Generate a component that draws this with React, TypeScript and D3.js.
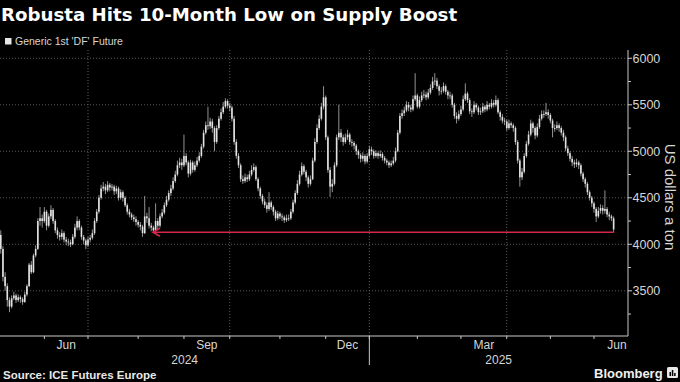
import React, { useEffect } from "react";
import * as d3 from "d3";

// ---------- DATA ----------
const title = "Robusta Hits 10-Month Low on Supply Boost";
const legendLabel = "Generic 1st 'DF' Future";
const sourceText = "Source: ICE Futures Europe";
const yAxisTitle = "US dollars a ton";

const startDate = "2024-05-02";
const endDate = "2025-06-13";
const firstOpen = 4100;
const holidays = [
  "2024-05-06", "2024-05-27", "2024-08-26", "2024-12-25", "2024-12-26",
  "2025-01-01", "2025-04-18", "2025-04-21", "2025-05-05", "2025-05-26",
];

const closes = [
  3950, 3650, 3550, 3400, 3330, 3420, 3450, 3400, 3430, 3410, 3380, 3460, 3550, 3780, 3700, 3880, 3950, 4250, 4280, 4250,
  4350, 4200, 4300, 4370, 4250, 4150, 4100, 4080, 4120, 4050, 4030, 4020, 4000, 4080, 4180, 4250, 4180, 4080, 4040, 3990,
  4050, 4070, 4120, 4250, 4350, 4500, 4600, 4620, 4580, 4640, 4610, 4620, 4570, 4600, 4500, 4560, 4500, 4420, 4350, 4320,
  4290, 4270, 4240, 4210, 4190, 4120, 4300, 4280, 4200, 4180, 4150, 4250, 4200, 4300, 4340, 4420, 4480, 4550, 4600, 4680,
  4750, 4850, 4880, 4850, 4950, 4880, 4760, 4880, 4800, 4850, 4900, 4950, 5050, 5200, 5280, 5270, 5320, 5250, 5100, 5250,
  5350, 5420, 5480, 5540, 5490, 5470, 5350, 5100, 4950, 4850, 4700, 4680, 4720, 4700, 4750, 4800, 4830, 4700, 4600, 4520,
  4460, 4420, 4380, 4450, 4400, 4350, 4280, 4330, 4300, 4290, 4260, 4280, 4280, 4350, 4450, 4550, 4650, 4750, 4840, 4780,
  4720, 4650, 4700, 4900, 5100, 5250, 5350, 5480, 5580, 5150, 4800, 4620, 4650, 4850, 5150, 5200, 5150, 5100, 5150, 5180,
  5100, 5090, 5060, 5000, 4960, 4920, 4950, 4890, 4950, 5020, 5000, 4950, 4980, 4950, 4970, 4930, 4900, 4880, 4850, 4870,
  4900, 5000, 5200, 5380, 5410, 5440, 5500, 5470, 5450, 5560, 5600, 5480, 5550, 5600, 5610, 5580, 5630, 5680, 5750, 5760,
  5700, 5650, 5650, 5700, 5640, 5600, 5600, 5500, 5380, 5350, 5400, 5450, 5560, 5620, 5550, 5430, 5420, 5500, 5470, 5420,
  5430, 5480, 5450, 5500, 5480, 5520, 5500, 5550, 5420, 5370, 5330, 5320, 5250, 5300, 5280, 5250, 5100, 4900, 4720, 4780,
  4950, 5080, 5180, 5300, 5250, 5170, 5260, 5350, 5400, 5400, 5420, 5390, 5330, 5250, 5250, 5280, 5250, 5200, 5150, 5030,
  4980, 4920, 4880, 4860, 4880, 4850, 4760, 4700, 4650, 4560, 4500, 4440, 4380, 4300, 4360, 4390, 4360, 4380, 4320, 4300,
  4280, 4160,
];

const highs = [
  4150, 3980, 3700, 3580, 3430, 3450, 3490, 3470, 3460, 3450, 3430, 3490, 3570, 3800, 3820, 3900, 3990, 4280, 4400, 4320,
  4400, 4370, 4330, 4420, 4390, 4270, 4180, 4130, 4160, 4140, 4080, 4060, 4050, 4110, 4220, 4300, 4270, 4200, 4100, 4060,
  4080, 4100, 4160, 4280, 4380, 4530, 4640, 4670, 4650, 4680, 4660, 4650, 4640, 4630, 4620, 4590, 4580, 4520, 4440, 4380,
  4340, 4320, 4300, 4260, 4240, 4210, 4520, 4340, 4400, 4230, 4200, 4440, 4280, 4330, 4380, 4450, 4520, 4580, 4640, 4720,
  4790, 4900, 4930, 4920, 5180, 4980, 4900, 4910, 4900, 4890, 4940, 4990, 5080, 5230, 5320, 5480, 5360, 5350, 5270, 5280,
  5380, 5460, 5530, 5570, 5560, 5520, 5490, 5380, 5130, 4980, 4870, 4740, 4760, 4750, 4790, 4850, 4870, 4850, 4720, 4620,
  4540, 4490, 4450, 4560, 4470, 4420, 4370, 4360, 4350, 4330, 4310, 4320, 4320, 4380, 4480, 4580, 4690, 4790, 4880, 4860,
  4800, 4740, 4740, 4930, 5140, 5290, 5390, 5520, 5700, 5600, 5170, 4830, 4700, 4880, 5180, 5500, 5240, 5180, 5190, 5230,
  5200, 5130, 5110, 5080, 5020, 4980, 4990, 4970, 4980, 5060, 5050, 5020, 5010, 5000, 5010, 4990, 4950, 4920, 4900, 4900,
  4940, 5040, 5230, 5410, 5450, 5480, 5540, 5530, 5500, 5600, 5840, 5620, 5590, 5640, 5660, 5640, 5670, 5720, 5800, 5840,
  5790, 5720, 5690, 5740, 5720, 5660, 5640, 5620, 5520, 5420, 5440, 5490, 5600, 5730, 5640, 5570, 5460, 5540, 5520, 5490,
  5470, 5520, 5500, 5540, 5520, 5560, 5550, 5600, 5570, 5440, 5400, 5360, 5340, 5340, 5320, 5300, 5270, 5120, 4920, 4820,
  4980, 5110, 5220, 5340, 5320, 5270, 5300, 5390, 5440, 5440, 5520, 5450, 5410, 5350, 5290, 5320, 5300, 5270, 5230, 5170,
  5060, 5000, 4950, 4910, 4920, 4900, 4870, 4780, 4720, 4670, 4580, 4520, 4460, 4400, 4400, 4430, 4420, 4580, 4400, 4350,
  4320, 4300,
];

const lows = [
  3900, 3600, 3500, 3330, 3270, 3310, 3400, 3370, 3380, 3370, 3350, 3370, 3440, 3540, 3680, 3690, 3860, 3940, 4200, 4180,
  4230, 4150, 4180, 4270, 4220, 4120, 4060, 4040, 4050, 4020, 3990, 3980, 3970, 3990, 4060, 4150, 4150, 4050, 4000, 3950,
  3970, 4020, 4050, 4100, 4230, 4330, 4480, 4570, 4540, 4560, 4570, 4580, 4530, 4540, 4470, 4480, 4460, 4400, 4320, 4290,
  4260, 4240, 4200, 4180, 4150, 4080, 4110, 4230, 4170, 4140, 4130, 4140, 4160, 4180, 4280, 4320, 4400, 4460, 4520, 4580,
  4660, 4730, 4820, 4800, 4830, 4850, 4720, 4740, 4770, 4780, 4830, 4880, 4930, 5030, 5180, 5230, 5240, 5200, 5000, 5080,
  5230, 5330, 5400, 5460, 5460, 5430, 5320, 5070, 4920, 4820, 4670, 4650, 4660, 4670, 4680, 4730, 4780, 4680, 4570, 4490,
  4430, 4390, 4340, 4360, 4370, 4310, 4250, 4260, 4270, 4250, 4230, 4240, 4250, 4260, 4330, 4430, 4530, 4630, 4730, 4750,
  4680, 4610, 4630, 4690, 4880, 5080, 5230, 5330, 5450, 5120, 4770, 4510, 4560, 4630, 4830, 5120, 5100, 5060, 5080, 5120,
  5070, 5050, 5020, 4960, 4920, 4880, 4890, 4860, 4870, 4930, 4960, 4920, 4930, 4920, 4930, 4900, 4870, 4850, 4820, 4830,
  4850, 4880, 4990, 5180, 5350, 5380, 5420, 5430, 5420, 5430, 5540, 5460, 5460, 5530, 5570, 5550, 5560, 5610, 5660, 5710,
  5670, 5600, 5610, 5630, 5610, 5560, 5560, 5470, 5350, 5300, 5330, 5380, 5430, 5540, 5520, 5400, 5370, 5400, 5440, 5390,
  5390, 5410, 5420, 5430, 5450, 5460, 5470, 5480, 5400, 5330, 5300, 5280, 5220, 5230, 5250, 5210, 5070, 4870, 4620, 4690,
  4760, 4930, 5060, 5160, 5200, 5130, 5150, 5240, 5330, 5360, 5380, 5350, 5300, 5150, 5210, 5230, 5210, 5170, 5110, 5000,
  4950, 4890, 4840, 4820, 4830, 4810, 4730, 4670, 4610, 4530, 4470, 4400, 4340, 4240, 4280, 4330, 4320, 4330, 4290, 4260,
  4250, 4130,
];

const lowLevel = 4130; // red "10-month low" line
const yLabelTicks = [3500, 4000, 4500, 5000, 5500, 6000];
const yMinorTicks = [3250, 3750, 4250, 4750, 5250, 5750];
const monthLabels = ["Jun", "Sep", "Dec", "Mar", "Jun"]; // months labelled on the axis
const yearLabels = ["2024", "2025"];

// ---------- helpers ----------
const monthNames = ["Jan", "Feb", "Mar", "Apr", "May", "Jun", "Jul", "Aug", "Sep", "Oct", "Nov", "Dec"];
const fmt = d3.timeFormat("%Y-%m-%d");

function tradingDays(start: string, end: string) {
  const hol = new Set(holidays);
  const days = d3.timeDay.range(new Date(start + "T00:00:00"), d3.timeDay.offset(new Date(end + "T00:00:00"), 1));
  return days.filter((d) => d.getDay() !== 0 && d.getDay() !== 6 && !hol.has(fmt(d)));
}

const W = 680;
const H = 382;
const plotRight = 628;
const plotTop = 50;
const plotBottom = 336;

export default function App() {
  useEffect(() => {
    document.body.style.margin = "0";
    document.body.style.background = "#000";
  }, []);

  const dates = tradingDays(startDate, endDate);
  const n = Math.min(dates.length, closes.length);
  const data = d3.range(n).map((i) => ({
    date: dates[i],
    open: i === 0 ? firstOpen : closes[i - 1],
    close: closes[i],
    high: highs[i],
    low: lows[i],
  }));

  const step = 2.181;
  const x = d3.scaleLinear().domain([0, n - 1]).range([0.76, 0.76 + (n - 1) * step]);
  const y = d3.scaleLinear().domain([3014, 6089]).range([plotBottom, plotTop]);

  const monthStarts: { i: number; date: Date }[] = [];
  data.forEach((d, i) => {
    if (i > 0 && d.date.getMonth() !== data[i - 1].date.getMonth()) monthStarts.push({ i, date: d.date });
  });

  const monthTradingCount = (d: Date) => {
    const s = d3.timeMonth.floor(d);
    const e = d3.timeMonth.offset(s, 1);
    const hol = new Set(holidays);
    return d3.timeDay.range(s, e).filter((q) => q.getDay() !== 0 && q.getDay() !== 6 && !hol.has(fmt(q))).length;
  };

  const labelled = monthStarts.filter(
    (m) => monthLabels.includes(monthNames[m.date.getMonth()]) && [5, 8, 11, 2].includes(m.date.getMonth())
  );
  const yearStart = monthStarts.find((m) => m.date.getMonth() === 0);
  const yearSepX = yearStart ? x(yearStart.i) : 0;

  const grid = "#5a5a5a";
  const axisCol = "#c8c8c8";
  const textCol = "#d6d6d6";
  const font = "'Liberation Sans', Arial, sans-serif";
  const red = "#d4284a";

  const lowStartIdx = 70;
  const xl0 = x(lowStartIdx) - 0.5;
  const xl1 = x(n - 1) + 0.5;
  const yl = y(lowLevel);

  return (
    <svg width={W} height={H} style={{ display: "block", background: "#000" }} fontFamily={font}>
      <rect x={0} y={0} width={W} height={H} fill="#000" />
      <text x={1} y={21} fill="#fff" fontSize={18.2} fontWeight="bold" fontFamily="'DejaVu Sans', sans-serif">
        {title}
      </text>
      <rect x={5} y={38} width={6.5} height={6.5} fill="#e6e6e6" />
      <text x={15} y={45} fill={textCol} fontSize={10.5}>
        {legendLabel}
      </text>

      {yLabelTicks.map((t) => (
        <line key={"g" + t} x1={0} x2={plotRight} y1={y(t)} y2={y(t)} stroke={grid} strokeWidth={1} strokeDasharray="1,2" />
      ))}
      {monthStarts
        .filter((m) => m.date.getMonth() % 3 === 0)
        .map((m) => (
          <line key={"vg" + m.i} x1={x(m.i)} x2={x(m.i)} y1={plotTop} y2={plotBottom} stroke={grid} strokeWidth={1} strokeDasharray="1,2" />
        ))}

      <g>
        {data.map((d, i) => {
          const cx = x(i);
          const top = y(Math.max(d.open, d.close));
          const bot = y(Math.min(d.open, d.close));
          return (
            <g key={i}>
              <line x1={cx} x2={cx} y1={y(d.high)} y2={y(d.low)} stroke="#b8b8b8" strokeWidth={0.8} />
              <rect x={cx - 0.8} y={top} width={1.6} height={Math.max(0.8, bot - top)} fill="#e2e2e2" />
            </g>
          );
        })}
      </g>

      <line x1={xl0} x2={xl1} y1={yl} y2={yl} stroke={red} strokeWidth={1.6} />
      <polyline points={`${xl0 + 7},${yl - 4} ${xl0},${yl} ${xl0 + 7},${yl + 4}`} fill="none" stroke={red} strokeWidth={1.6} />

      <line x1={plotRight} x2={plotRight} y1={plotTop} y2={plotBottom} stroke={axisCol} strokeWidth={1} />
      {yLabelTicks.map((t) => (
        <g key={"yt" + t}>
          <line x1={plotRight} x2={plotRight + 4} y1={y(t)} y2={y(t)} stroke={axisCol} />
          <text x={plotRight + 4.5} y={y(t) + 4.5} fill={textCol} fontSize={12.5}>
            {d3.format("d")(t)}
          </text>
        </g>
      ))}
      {yMinorTicks.map((t) => (
        <line key={"ym" + t} x1={plotRight} x2={plotRight + 3} y1={y(t)} y2={y(t)} stroke={axisCol} />
      ))}
      <text transform={`translate(665, ${(plotTop + plotBottom) / 2 + 4}) rotate(90)`} textAnchor="middle" fill={textCol} fontSize={15}>
        {yAxisTitle}
      </text>

      <line x1={0} x2={plotRight} y1={plotBottom} y2={plotBottom} stroke={axisCol} strokeWidth={1} />
      {monthStarts.map((m) => (
        <line key={"xt" + m.i} x1={x(m.i)} x2={x(m.i)} y1={plotBottom} y2={plotBottom + 3} stroke={axisCol} />
      ))}
      <line x1={yearSepX} x2={yearSepX} y1={plotBottom} y2={365} stroke={axisCol} strokeWidth={1} />
      {labelled.map((m) => {
        const cx = x(m.i) + (monthTradingCount(m.date) * step) / 2;
        return (
          <text key={"ml" + m.i} x={cx} y={349} textAnchor="middle" fill={textCol} fontSize={12}>
            {monthNames[m.date.getMonth()]}
          </text>
        );
      })}
      <text x={yearSepX / 2} y={364} textAnchor="middle" fill={textCol} fontSize={12}>
        {yearLabels[0]}
      </text>
      <text x={(yearSepX + plotRight) / 2} y={364} textAnchor="middle" fill={textCol} fontSize={12}>
        {yearLabels[1]}
      </text>

      <text x={3} y={378.5} fill="#e8e8e8" fontSize={11.5} fontWeight="bold">
        {sourceText}
      </text>
      <text x={594} y={378} fill="#f0f0f0" fontSize={13} fontWeight="bold">
        Bloomberg
      </text>
      <g transform="translate(667,367)">
        <rect x={0} y={0} width={11} height={11} rx={1.5} fill="#e8e8e8" />
        <rect x={2.5} y={5} width={1.5} height={4} fill="#000" />
        <rect x={4.8} y={3} width={1.5} height={6} fill="#000" />
        <rect x={7.1} y={6} width={1.5} height={3} fill="#000" />
      </g>
    </svg>
  );
}
